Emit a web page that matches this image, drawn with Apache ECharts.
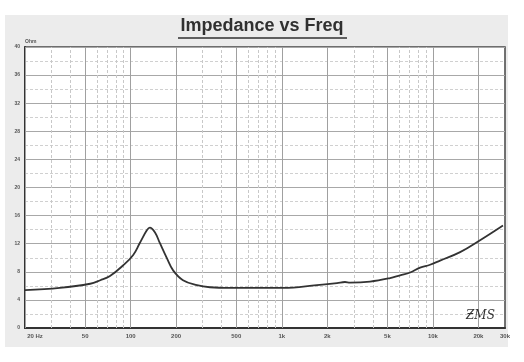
<!DOCTYPE html>
<html>
<head>
<meta charset="utf-8">
<script src="https://cdn.jsdelivr.net/npm/echarts@6/dist/echarts.min.js"></script>
<style>html,body{margin:0;padding:0;background:#fff;}#c{width:524px;height:362px;}</style>
</head>
<body>
<div id="c"></div>
<script>
const freqs = [20, 34, 54, 63, 73, 89, 104, 115, 128, 134, 145, 156, 174, 191, 222, 275, 335, 455, 620, 1020, 1710, 2320, 2620, 2830, 3840, 5210, 6060, 7070, 8230, 9580, 11160, 15140, 20520, 29100];
const ohms = [5.4, 5.7, 6.3, 6.8, 7.4, 8.9, 10.4, 12.1, 13.9, 14.3, 13.6, 12.1, 9.9, 8.2, 6.8, 6.1, 5.8, 5.7, 5.7, 5.7, 6.1, 6.4, 6.55, 6.45, 6.6, 7.1, 7.5, 7.9, 8.6, 9.0, 9.6, 10.8, 12.5, 14.6];
const xTickValues = [20, 50, 100, 200, 500, 1000, 2000, 5000, 10000, 20000, 30000];
const xTickLabels = ['20 Hz', '50', '100', '200', '500', '1k', '2k', '5k', '10k', '20k', '30k'];
const majorFreqs = [20, 50, 100, 200, 500, 1000, 2000, 5000, 10000, 20000];
const minorFreqs = [30, 40, 60, 70, 80, 90, 300, 400, 600, 700, 800, 900, 3000, 4000, 6000, 7000, 8000, 9000];

const chart = echarts.init(document.getElementById('c'));

const gridLines = [];
majorFreqs.forEach(f => gridLines.push({xAxis: f, lineStyle: {color: '#a0a0a0', width: 1, type: 'solid'}}));
minorFreqs.forEach(f => gridLines.push({xAxis: f, lineStyle: {color: '#c8c8c8', width: 1, type: [3, 2]}}));
const labelLines = xTickValues.map((v, i) => ({
  xAxis: v, name: xTickLabels[i],
  lineStyle: {color: 'rgba(0,0,0,0)', width: 0.1},
  label: {show: true, position: 'start', formatter: xTickLabels[i], fontSize: 6, color: '#555', distance: 5,
    offset: i === 0 ? [10, 0] : [0, 0], fontFamily: 'Liberation Sans', fontWeight: 'bold'}
}));

chart.setOption({
  animation: false,
  backgroundColor: '#fff',
  graphic: [
    {type: 'rect', z: -10, shape: {x: 5, y: 15, width: 503, height: 332}, style: {fill: '#ececec'}},
    {type: 'text', left: 'center', top: 17, z: 10, style: {text: 'Impedance vs Freq', font: 'bold 18px "Liberation Sans", Arial, sans-serif', fill: '#303030'}},
    {type: 'line', z: 10, shape: {x1: 178, y1: 38, x2: 347, y2: 38}, style: {stroke: '#303030', lineWidth: 1.5}},
    {type: 'text', left: 466, top: 310, z: 10, style: {text: 'ƵMS', font: 'italic 12px "DejaVu Serif", serif', fill: '#333'}}
  ],
  grid: {left: 25, top: 47, width: 480, height: 281, show: true, backgroundColor: '#fff', borderColor: '#444', borderWidth: 1.5},
  xAxis: {
    type: 'log', logBase: 10, min: 20, max: 30000,
    axisLine: {show: true, lineStyle: {color: '#333', width: 2}},
    axisTick: {show: false}, axisLabel: {show: false},
    splitLine: {show: false}, minorSplitLine: {show: false}
  },
  yAxis: {
    type: 'value', min: 0, max: 40, interval: 4,
    name: 'Ohm', nameLocation: 'end', nameGap: 2,
    nameTextStyle: {fontSize: 5, color: '#555', align: 'left', padding: [0, 0, 0, 0], fontWeight: 'bold'},
    axisLine: {show: true, lineStyle: {color: '#333', width: 2}},
    axisTick: {show: false},
    axisLabel: {fontSize: 5, color: '#555', margin: 5, fontFamily: 'Liberation Sans', fontWeight: 'bold'},
    splitLine: {show: true, lineStyle: {color: '#a8a8a8', width: 1}},
    minorTick: {show: false, splitNumber: 2},
    minorSplitLine: {show: true, lineStyle: {color: '#d0d0d0', width: 1, type: [3, 2]}}
  },
  series: [
    {
      type: 'line', data: [], silent: true,
      markLine: {silent: true, symbol: 'none', animation: false, label: {show: false}, data: gridLines}
    },
    {
      type: 'line', data: [], silent: true,
      markLine: {silent: true, symbol: 'none', animation: false, data: labelLines}
    },
    {
      type: 'line', smooth: 0.4, symbol: 'none',
      data: freqs.map((f, i) => [f, ohms[i]]),
      lineStyle: {color: '#333', width: 1.8},
      z: 5
    }
  ]
});
</script>
</body>
</html>
